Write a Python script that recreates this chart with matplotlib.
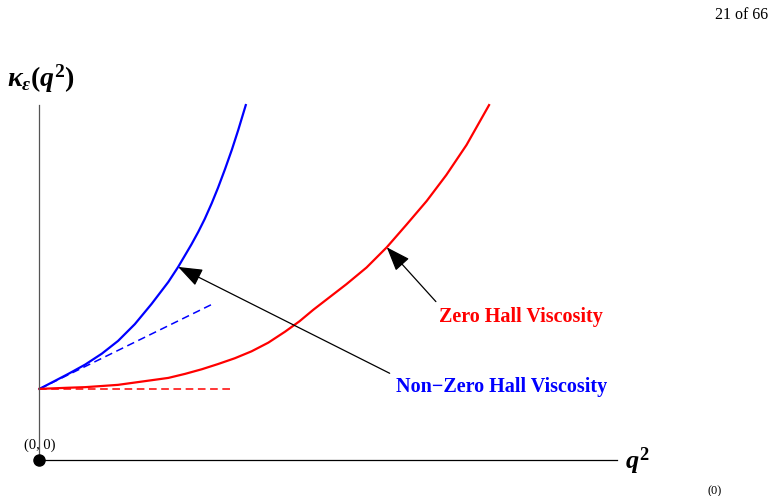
import matplotlib
matplotlib.use('Agg')
import matplotlib.pyplot as plt

plt.rcParams['mathtext.fontset'] = 'custom'
plt.rcParams['mathtext.rm'] = 'Liberation Serif:bold'
plt.rcParams['mathtext.it'] = 'Liberation Serif:bold:italic'
plt.rcParams['mathtext.bf'] = 'Liberation Serif:bold'

# values (arbitrary units, q^2 on x, kappa on y)
hall_q2 = [0.0, 0.50, 0.79, 1.08, 1.36, 1.65, 1.94, 2.23, 2.40, 2.63, 2.75, 2.86,
           2.98, 3.09, 3.21, 3.33, 3.44, 3.57]
hall_kappa = [1.23, 1.49, 1.65, 1.84, 2.06, 2.35, 2.70, 3.08, 3.34, 3.73, 3.95, 4.17,
              4.44, 4.71, 5.03, 5.37, 5.71, 6.14]

zero_q2 = [0.0, 0.50, 0.79, 1.08, 1.36, 1.65, 1.94, 2.23, 2.52, 2.81, 3.09, 3.38,
           3.67, 3.96, 4.25, 4.50, 4.74, 5.31, 5.66, 6.01, 6.35, 6.70, 7.04, 7.39, 7.78]
zero_kappa = [1.23, 1.25, 1.26, 1.28, 1.30, 1.34, 1.38, 1.42, 1.49, 1.57, 1.66, 1.76,
              1.88, 2.03, 2.22, 2.40, 2.60, 3.04, 3.33, 3.68, 4.07, 4.48, 4.93, 5.45, 6.14]

# small-q^2 asymptotes
hall_tangent_q2 = [0.0, 3.02]
hall_tangent_kappa = [1.23, 2.71]
zero_tangent_q2 = [0.0, 3.35]
zero_tangent_kappa = [1.23, 1.23]

x_end = 10.0
y_end = 6.14

fig = plt.figure(figsize=(7.78, 4.96), dpi=100)
ax = fig.add_axes([0, 0, 1, 1])
ax.set_xlim(-0.683, 12.78)
ax.set_ylim(-0.623, 7.958)

for side in ['top', 'right']:
    ax.spines[side].set_visible(False)
ax.spines['left'].set_position(('data', 0))
ax.spines['bottom'].set_position(('data', 0))
ax.spines['left'].set_bounds(0, y_end)
ax.spines['bottom'].set_bounds(0, x_end)
ax.spines['left'].set_color('#555555')
ax.spines['left'].set_linewidth(0.9)
ax.spines['bottom'].set_linewidth(0.9)
ax.set_xticks([])
ax.set_yticks([])

ax.plot(hall_tangent_q2, hall_tangent_kappa, color='blue', lw=1.1, ls=(0, (5, 3)))
ax.plot(zero_tangent_q2, zero_tangent_kappa, color='red', lw=1.1, ls=(0, (5, 3)))
ax.plot(hall_q2, hall_kappa, color='blue', lw=1.6, solid_joinstyle='round')
ax.plot(zero_q2, zero_kappa, color='red', lw=1.6, solid_joinstyle='round')

ax.plot([0], [0], 'o', color='black', ms=8, clip_on=False, zorder=5)
ax.text(0, 0.26, '(0, 0)', family='Liberation Serif', fontsize=10.5,
        ha='center', va='center')

ax.text(0.02, 6.6, r'$\kappa_{\epsilon}(q^{2})$', fontsize=20, ha='center', va='center')
ax.text(10.13, -0.02, r'$q^{2}$', fontsize=19, ha='left', va='center')

arrow = dict(arrowstyle='-|>,head_length=0.75,head_width=0.28', color='black',
             lw=0.9, mutation_scale=20, shrinkA=0, shrinkB=0)
ax.annotate('', xy=(hall_q2[8], hall_kappa[8]), xytext=(6.06, 1.50), arrowprops=arrow)
ax.annotate('', xy=(zero_q2[19], zero_kappa[19]), xytext=(6.86, 2.74), arrowprops=arrow)

ax.text(8.33, 2.47, 'Zero Hall Viscosity', color='red', family='Liberation Serif',
        weight='bold', fontsize=14.5, ha='center', va='center')
ax.text(7.99, 1.26, 'Non\u2212Zero Hall Viscosity', color='blue', family='Liberation Serif',
        weight='bold', fontsize=14.5, ha='center', va='center')

fig.text(0.953, 0.97, '21 of 66', family='Liberation Serif', fontsize=11.5,
         ha='center', va='center')
fig.text(0.918, 0.022, '(0)', family='Liberation Serif', fontsize=9,
         ha='center', va='top')

fig.savefig('out.png', dpi=100)
